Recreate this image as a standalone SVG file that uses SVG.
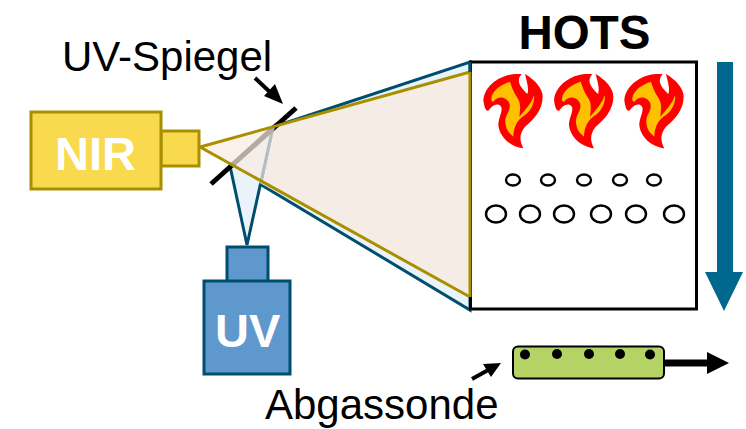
<svg xmlns="http://www.w3.org/2000/svg" width="746" height="429" viewBox="0 0 746 429">
<style>
text{font-family:"Liberation Sans",Arial,sans-serif}
.lbl{font-size:42px;fill:#000}
.bold{font-weight:bold;font-size:47px;fill:#fff}
.gold{fill:#f9da4e;stroke:#a98f00;stroke-width:3}
.blue{fill:#5f98cc;stroke:#004e6d;stroke-width:3}
.ring{fill:none;stroke:#000;stroke-width:2.4}
.dot{fill:#000}
</style>
<defs>
<g id="flame">
<path fill="#ff0000" d="M135,42C90,45 45,75 40,120C42,140 48,155 55,152C65,140 75,130 88,135C105,145 85,170 85,195C88,230 120,260 160,265C150,245 145,225 165,200C190,180 218,150 218,110C218,85 195,60 165,42C170,65 178,85 172,102C155,85 135,65 155,42Z"/>
<path fill="#ffc000" d="M120,65C95,72 70,90 65,110C62,120 65,125 70,125C85,105 110,110 118,130C125,155 100,165 107,195C110,215 125,225 130,230C130,205 140,180 165,165C185,150 195,125 192,105C185,130 165,150 148,170C150,150 155,130 140,110C130,95 125,80 120,65Z"/>
</g>
</defs>
<g id="connectors">
<path d="M273,127L470,62L470,310L230,166Z" fill="#eaf3fa" stroke="#004e6d" stroke-width="3"/>
<path d="M273,127L470,72L470,297L260,183Z" fill="#f5ece6"/>
<path d="M247,245L230,166L273,127Z" fill="#eaf3fa" stroke="#004e6d" stroke-width="3"/>
<path d="M211,184L296,108" stroke="#000" stroke-width="5" fill="none"/>
<path d="M200,147L275,126.500L262,184.500Z" fill="#f7ebe2" fill-opacity=".72"/>
<path d="M470,72L200,147L470,297" fill="none" stroke="#a98f00" stroke-width="3"/>
<path d="M255,78L272,94" stroke="#000" stroke-width="4" fill="none"/>
<path d="M283,104L264,96L275,84Z" fill="#000"/>
<path d="M472,379L490,369" stroke="#000" stroke-width="4" fill="none"/>
<path d="M501,363L491,377L483,364Z" fill="#000"/>
<path d="M664,363H708" stroke="#000" stroke-width="7" fill="none"/>
<path d="M707,352L729,363L707,374Z" fill="#000"/>
<path d="M717,62H733V272H743L724,311L705,272H717Z" fill="#00688f"/>
</g>
<g id="hots">
<rect x="470.500" y="62" width="226" height="247" fill="#fff" stroke="#000" stroke-width="3"/>
<path d="M470,72V297" stroke="#a98f00" stroke-width="3"/>
<path d="M470,62V72" stroke="#004e6d" stroke-width="3"/>
<text x="518.500" y="49" style="font-size:47.500px;font-weight:bold;fill:#000">HOTS</text>
<use href="#flame" transform="translate(470,60) scale(.3333)"/>
<use href="#flame" transform="translate(540.700,60) scale(.3333)"/>
<use href="#flame" transform="translate(611,60) scale(.3333)"/>
<ellipse class="ring" cx="513" cy="180" rx="7" ry="5.500"/>
<ellipse class="ring" cx="548" cy="180" rx="7" ry="5.500"/>
<ellipse class="ring" cx="584" cy="180" rx="7" ry="5.500"/>
<ellipse class="ring" cx="620" cy="180" rx="7" ry="5.500"/>
<ellipse class="ring" cx="654" cy="180" rx="7" ry="5.500"/>
<ellipse class="ring" cx="496" cy="214" rx="10" ry="8.500"/>
<ellipse class="ring" cx="530" cy="214" rx="10" ry="8.500"/>
<ellipse class="ring" cx="564" cy="214" rx="10" ry="8.500"/>
<ellipse class="ring" cx="601" cy="214" rx="10" ry="8.500"/>
<ellipse class="ring" cx="636" cy="214" rx="10" ry="8.500"/>
<ellipse class="ring" cx="674" cy="214" rx="10" ry="8.500"/>
</g>
<g id="nir">
<rect class="gold" x="161" y="131" width="38" height="35"/>
<rect class="gold" x="31" y="112" width="130" height="77"/>
<text class="bold" x="55" y="170">NIR</text>
</g>
<g id="uv">
<rect class="blue" x="227" y="247" width="41" height="35"/>
<rect class="blue" x="204" y="281" width="86" height="93"/>
<text class="bold" x="215" y="347">UV</text>
</g>
<g id="spiegel"><text class="lbl" x="62" y="71">UV-Spiegel</text></g>
<g id="sonde">
<rect x="513" y="346.500" width="151" height="32" rx="5" fill="#b5d365" stroke="#000" stroke-width="2"/>
<circle class="dot" cx="525" cy="354.500" r="5"/>
<circle class="dot" cx="557" cy="354" r="5"/>
<circle class="dot" cx="589" cy="354" r="5"/>
<circle class="dot" cx="620" cy="354" r="5"/>
<circle class="dot" cx="650" cy="354.500" r="5"/>
<text class="lbl" x="265" y="419">Abgassonde</text>
</g>
</svg>
